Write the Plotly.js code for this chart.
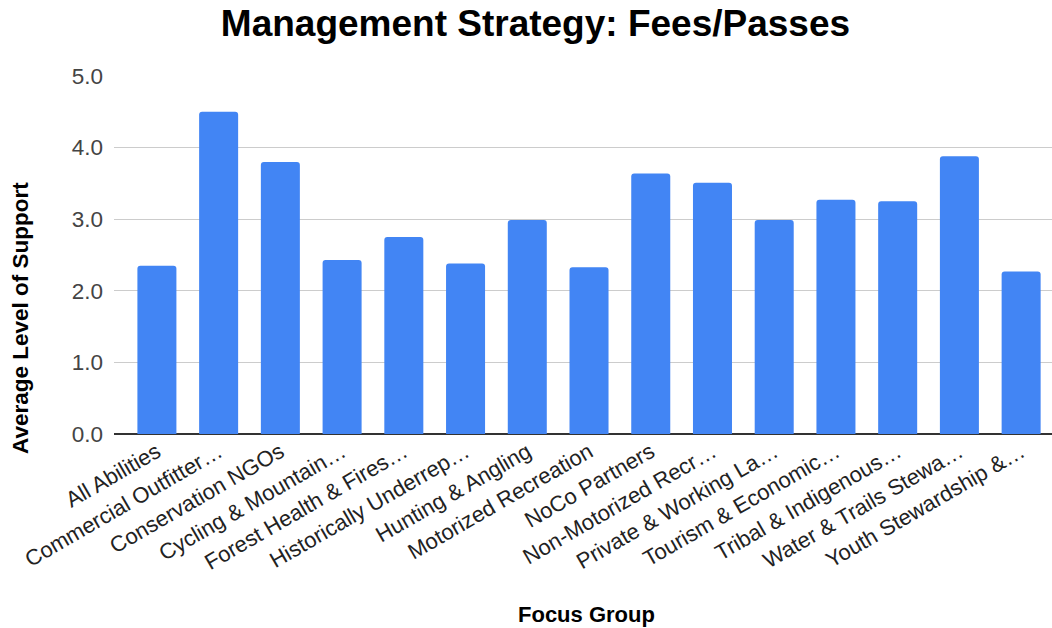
<!DOCTYPE html>
<html>
<head>
<meta charset="utf-8">
<script src="https://cdn.plot.ly/plotly-3.0.1.min.js"></script>
<style>html,body{margin:0;padding:0;background:#fff;}#chart{width:1052px;height:628px;}</style>
</head>
<body>
<div id="chart"></div>
<script>
var categories = [
  "All Abilities",
  "Commercial Outfitter…",
  "Conservation NGOs",
  "Cycling & Mountain…",
  "Forest Health & Fires…",
  "Historically Underrep…",
  "Hunting & Angling",
  "Motorized Recreation",
  "NoCo Partners",
  "Non-Motorized Recr…",
  "Private & Working La…",
  "Tourism & Economic…",
  "Tribal & Indigenous…",
  "Water & Trails Stewa…",
  "Youth Stewardship &…"
];
var support = [2.35, 4.50, 3.80, 2.43, 2.75, 2.38, 2.99, 2.33, 3.64, 3.51, 2.99, 3.27, 3.25, 3.88, 2.27];
var yTicks = [0, 1, 2, 3, 4, 5];

var trace = {
  type: 'bar',
  x: categories,
  y: support,
  marker: {color: '#4285F4', cornerradius: 3},
  hoverinfo: 'x+y'
};

var layout = {
  width: 1052,
  height: 628,
  margin: {l: 114, r: 0, t: 76, b: 194},
  paper_bgcolor: '#fff',
  plot_bgcolor: '#fff',
  font: {family: 'Arial, "Liberation Sans", sans-serif', color: '#222'},
  title: {
    text: '<b>Management Strategy: Fees/Passes</b>',
    font: {size: 37, color: '#000'},
    x: 0.509, xanchor: 'center',
    y: 0.964, yanchor: 'middle'
  },
  bargap: 0.368,
  xaxis: {
    type: 'category',
    range: [-0.695, 14.5],
    tickangle: -30,
    tickfont: {size: 22, color: '#222'},
    ticks: '',
    showgrid: false,
    showline: false,
    automargin: false
  },
  yaxis: {
    range: [0, 5],
    tickvals: yTicks,
    tickformat: '.1f',
    tickfont: {size: 22.5, color: '#444'},
    ticks: '',
    ticklabelstandoff: 10,
    showgrid: true,
    gridcolor: '#cccccc',
    gridwidth: 1,
    zeroline: true,
    zerolinecolor: '#333333',
    zerolinewidth: 2,
    showline: false,
    automargin: false
  },
  annotations: [
    {
      text: '<b>Focus Group</b>',
      xref: 'paper', yref: 'paper',
      x: 0.504, y: -0.503,
      xanchor: 'center', yanchor: 'middle',
      showarrow: false,
      font: {size: 22, color: '#000'}
    },
    {
      text: '<b>Average Level of Support</b>',
      xref: 'paper', yref: 'paper',
      x: -0.1002, y: 0.324,
      xanchor: 'center', yanchor: 'middle',
      textangle: -90,
      showarrow: false,
      font: {size: 22.5, color: '#000'}
    }
  ],
  showlegend: false
};

Plotly.newPlot('chart', [trace], layout, {displayModeBar: false, responsive: false});
</script>
</body>
</html>
